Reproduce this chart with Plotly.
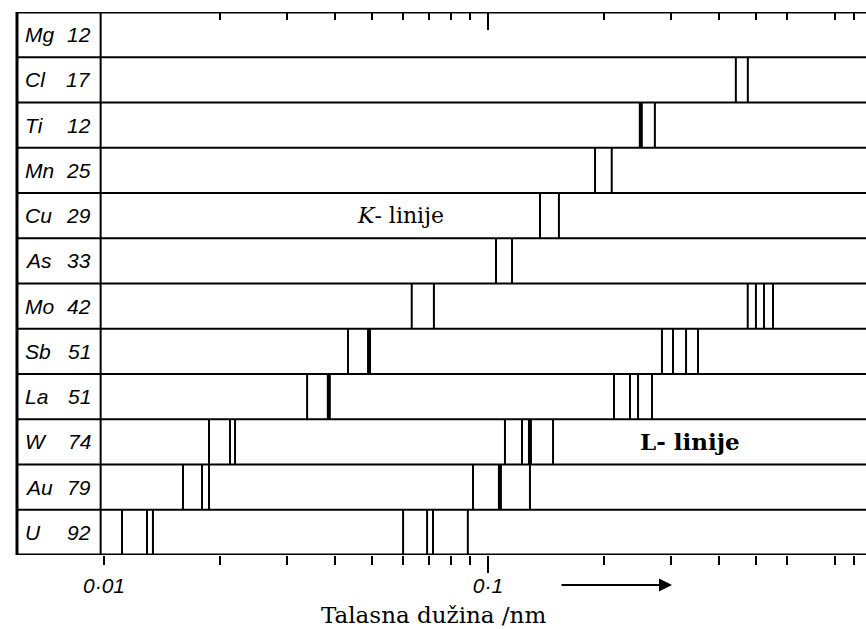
import math
import plotly.graph_objects as go

# ---------------- data ----------------
elements = ["Mg", "Cl", "Ti", "Mn", "Cu", "As", "Mo", "Sb", "La", "W", "Au", "U"]
atomic_numbers = ["12", "17", "12", "25", "29", "33", "42", "51", "51", "74", "79", "92"]

# K-series lines (nm), one list per element row
k_lines = [
    [],
    [0.442, 0.475],
    [0.250, 0.272],
    [0.190, 0.210],
    [0.1366, 0.153],
    [0.1049, 0.1155],
    [0.0633, 0.0723],
    [0.0432, 0.0490],
    [0.0338, 0.0385],
    [0.01877, 0.02129, 0.02194],
    [0.01606, 0.01800, 0.01877],
    [0.01114, 0.01294, 0.01341],
]
# L-series lines (nm)
l_lines = [
    [], [], [], [], [], [],
    [0.4747, 0.4986, 0.5234, 0.5524],
    [0.2838, 0.3032, 0.3279, 0.3523],
    [0.2129, 0.2343, 0.2459, 0.2674],
    [0.1107, 0.1226, 0.1286, 0.1477],
    [0.0914, 0.1074, 0.1286],
    [0.0601, 0.0694, 0.0719, 0.0886],
]
# intense lines (drawn heavier)
strong_lines = {"Ti": [0.250], "Sb": [0.0490], "La": [0.0385], "W": [0.1286], "Au": [0.1074]}

major_ticks = [0.01, 0.1]
major_labels = ["0·01", "0·1"]
minor_ticks = [0.02, 0.03, 0.04, 0.05, 0.06, 0.07, 0.08, 0.09,
               0.2, 0.3, 0.4, 0.5, 0.6, 0.8, 0.9]
top_minor_ticks = [0.02, 0.03, 0.04, 0.05, 0.06, 0.07, 0.08, 0.09,
                   0.2, 0.3, 0.4, 0.5, 0.6, 0.8, 0.9]
label_col_edge = 0.0098  # wavelength where label column ends

# ---------------- layout geometry ----------------
W, H = 866, 629
ML, MR, MT, MB = 17, 0, 12, 74
plot_w = W - ML - MR
plot_h = H - MT - MB
xlog_min = -2.2266
xlog_max = -0.0156
nrows = len(elements)


def xpaper(v):
    return (math.log10(v) - xlog_min) / (xlog_max - xlog_min)


def px_to_paper_x(px):
    return (px - ML) / plot_w


def px_to_paper_y(py):
    return (H - MB - py) / plot_h


# ---------------- traces ----------------
nx, ny, sx, sy = [], [], [], []
for i, el in enumerate(elements):
    for w in k_lines[i] + l_lines[i]:
        if w in strong_lines.get(el, []):
            sx += [w, w, None]
            sy += [i, i + 1, None]
        else:
            nx += [w, w, None]
            ny += [i, i + 1, None]

fig = go.Figure()
fig.add_trace(go.Scatter(x=nx, y=ny, mode="lines", line=dict(color="black", width=2),
                         hoverinfo="skip", showlegend=False))
fig.add_trace(go.Scatter(x=sx, y=sy, mode="lines", line=dict(color="black", width=4),
                         hoverinfo="skip", showlegend=False))
fig.add_trace(go.Scatter(x=[], y=[], xaxis="x2", showlegend=False))
fig.add_trace(go.Scatter(x=[], y=[], xaxis="x3", showlegend=False))

# ---------------- frame & row boxes ----------------
shapes = []
for r in range(1, nrows):
    shapes.append(dict(type="line", xref="paper", yref="y", x0=0, x1=1, y0=r, y1=r,
                       line=dict(color="black", width=2)))
for r in (0, nrows):
    shapes.append(dict(type="line", xref="paper", yref="y", x0=0, x1=1, y0=r, y1=r,
                       line=dict(color="black", width=3)))
shapes.append(dict(type="line", xref="paper", yref="paper", x0=0, x1=0, y0=0, y1=1,
                   line=dict(color="black", width=3)))
shapes.append(dict(type="line", xref="paper", yref="paper", x0=xpaper(label_col_edge),
                   x1=xpaper(label_col_edge), y0=0, y1=1,
                   line=dict(color="black", width=2)))

# ---------------- annotations ----------------
ann = []
label_font = dict(family="Liberation Sans", size=21, color="black", style="italic")
for i, (el, z) in enumerate(zip(elements, atomic_numbers)):
    ann.append(dict(text=el, xref="paper", yref="y", x=px_to_paper_x(23), y=i + 0.5,
                    xanchor="left", yanchor="middle", showarrow=False, font=label_font))
    ann.append(dict(text=z, xref="paper", yref="y", x=px_to_paper_x(93), y=i + 0.5,
                    xanchor="right", yanchor="middle", showarrow=False, font=label_font))

ann.append(dict(text="<i>K</i>- linije", xref="paper", yref="y", x=px_to_paper_x(400), y=4.5,
                xanchor="center", yanchor="middle", showarrow=False,
                font=dict(family="DejaVu Serif", size=22, color="black")))
ann.append(dict(text="<b>L</b>- linije", xref="paper", yref="y", x=px_to_paper_x(690), y=9.5,
                xanchor="center", yanchor="middle", showarrow=False,
                font=dict(family="DejaVu Serif", size=23, color="black", weight="bold")))
ann.append(dict(text="Talasna dužina /nm", xref="paper", yref="paper",
                x=px_to_paper_x(433), y=px_to_paper_y(615),
                xanchor="center", yanchor="middle", showarrow=False,
                font=dict(family="DejaVu Serif", size=23, color="black")))
ann.append(dict(text="", xref="paper", yref="paper",
                x=px_to_paper_x(672), y=px_to_paper_y(585),
                ax=-112, ay=0, showarrow=True, arrowhead=2, arrowsize=1.3,
                arrowwidth=2, arrowcolor="black"))

axis_common = dict(type="log", range=[xlog_min, xlog_max], showgrid=False, zeroline=False,
                   showline=False)

fig.update_layout(
    width=W, height=H,
    margin=dict(l=ML, r=MR, t=MT, b=MB, pad=0),
    paper_bgcolor="white", plot_bgcolor="white",
    showlegend=False,
    xaxis=dict(**axis_common, side="bottom",
               tickmode="array", tickvals=major_ticks, ticktext=major_labels,
               ticks="outside", ticklen=9, tickwidth=2, tickcolor="black",
               tickfont=dict(family="Liberation Sans", size=21, color="black", style="italic"),
               ticklabelstandoff=3,
               minor=dict(tickmode="array", tickvals=minor_ticks, ticks="outside",
                          ticklen=9, tickwidth=2, tickcolor="black", showgrid=False)),
    xaxis2=dict(**axis_common, overlaying="x", side="top", anchor="y",
                tickmode="array", tickvals=[0.1], ticks="inside", ticklen=18,
                tickwidth=2, tickcolor="black", showticklabels=False,
                minor=dict(tickmode="array", tickvals=top_minor_ticks, ticks="inside",
                           ticklen=8, tickwidth=2, tickcolor="black", showgrid=False)),
    xaxis3=dict(**axis_common, overlaying="x", side="bottom", anchor="y",
                tickmode="array", tickvals=[0.1], ticks="outside", ticklen=17,
                tickwidth=2, tickcolor="black", showticklabels=False),
    yaxis=dict(range=[nrows, 0], visible=False, showgrid=False, zeroline=False),
    shapes=shapes,
    annotations=ann,
)

fig.write_html("out.html")
